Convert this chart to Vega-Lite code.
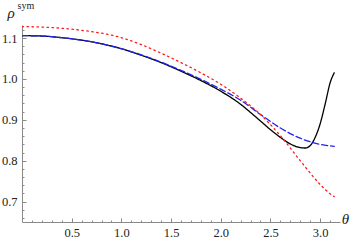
{
  "$schema": "https://vega.github.io/schema/vega-lite/v6.json",
  "width": 318,
  "height": 197,
  "autosize": {"type": "none"},
  "padding": {"left": 22, "top": 25, "right": 17, "bottom": 18},
  "background": "white",
  "config": {
    "font": "Liberation Serif",
    "view": {"stroke": null},
    "axis": {"grid": false, "domainColor": "#8a8a8a", "tickColor": "#8a8a8a", "labelFont": "Liberation Serif", "labelFontSize": 12.5, "labelColor": "#222222", "titleFont": "Liberation Serif", "titleFontWeight": "normal", "titleColor": "#222222"}
  },
  "data": {"values": [
    {"theta": 0.0, "rho": 1.106, "s": "exact"},
    {"theta": 0.2, "rho": 1.105, "s": "exact"},
    {"theta": 0.4, "rho": 1.101, "s": "exact"},
    {"theta": 0.6, "rho": 1.095, "s": "exact"},
    {"theta": 0.8, "rho": 1.086, "s": "exact"},
    {"theta": 1.0, "rho": 1.074, "s": "exact"},
    {"theta": 1.2, "rho": 1.058, "s": "exact"},
    {"theta": 1.4, "rho": 1.040, "s": "exact"},
    {"theta": 1.6, "rho": 1.019, "s": "exact"},
    {"theta": 1.8, "rho": 0.996, "s": "exact"},
    {"theta": 2.0, "rho": 0.970, "s": "exact"},
    {"theta": 2.2, "rho": 0.938, "s": "exact"},
    {"theta": 2.3, "rho": 0.918, "s": "exact"},
    {"theta": 2.4, "rho": 0.897, "s": "exact"},
    {"theta": 2.5, "rho": 0.876, "s": "exact"},
    {"theta": 2.6, "rho": 0.857, "s": "exact"},
    {"theta": 2.7, "rho": 0.841, "s": "exact"},
    {"theta": 2.8, "rho": 0.832, "s": "exact"},
    {"theta": 2.85, "rho": 0.831, "s": "exact"},
    {"theta": 2.9, "rho": 0.837, "s": "exact"},
    {"theta": 2.95, "rho": 0.857, "s": "exact"},
    {"theta": 3.0, "rho": 0.890, "s": "exact"},
    {"theta": 3.05, "rho": 0.938, "s": "exact"},
    {"theta": 3.1, "rho": 0.990, "s": "exact"},
    {"theta": 3.1416, "rho": 1.015, "s": "exact"},
    {"theta": 0.0, "rho": 1.106, "s": "approxA"},
    {"theta": 0.2, "rho": 1.105, "s": "approxA"},
    {"theta": 0.4, "rho": 1.101, "s": "approxA"},
    {"theta": 0.6, "rho": 1.095, "s": "approxA"},
    {"theta": 0.8, "rho": 1.086, "s": "approxA"},
    {"theta": 1.0, "rho": 1.074, "s": "approxA"},
    {"theta": 1.2, "rho": 1.059, "s": "approxA"},
    {"theta": 1.4, "rho": 1.041, "s": "approxA"},
    {"theta": 1.6, "rho": 1.021, "s": "approxA"},
    {"theta": 1.8, "rho": 0.999, "s": "approxA"},
    {"theta": 2.0, "rho": 0.975, "s": "approxA"},
    {"theta": 2.2, "rho": 0.948, "s": "approxA"},
    {"theta": 2.4, "rho": 0.913, "s": "approxA"},
    {"theta": 2.6, "rho": 0.880, "s": "approxA"},
    {"theta": 2.8, "rho": 0.855, "s": "approxA"},
    {"theta": 3.0, "rho": 0.840, "s": "approxA"},
    {"theta": 3.1416, "rho": 0.835, "s": "approxA"},
    {"theta": 0.0, "rho": 1.128, "s": "approxB"},
    {"theta": 0.2, "rho": 1.127, "s": "approxB"},
    {"theta": 0.4, "rho": 1.124, "s": "approxB"},
    {"theta": 0.6, "rho": 1.119, "s": "approxB"},
    {"theta": 0.8, "rho": 1.112, "s": "approxB"},
    {"theta": 1.0, "rho": 1.101, "s": "approxB"},
    {"theta": 1.2, "rho": 1.084, "s": "approxB"},
    {"theta": 1.4, "rho": 1.063, "s": "approxB"},
    {"theta": 1.6, "rho": 1.040, "s": "approxB"},
    {"theta": 1.8, "rho": 1.015, "s": "approxB"},
    {"theta": 2.0, "rho": 0.987, "s": "approxB"},
    {"theta": 2.2, "rho": 0.953, "s": "approxB"},
    {"theta": 2.4, "rho": 0.913, "s": "approxB"},
    {"theta": 2.6, "rho": 0.861, "s": "approxB"},
    {"theta": 2.8, "rho": 0.800, "s": "approxB"},
    {"theta": 3.0, "rho": 0.742, "s": "approxB"},
    {"theta": 3.1, "rho": 0.719, "s": "approxB"},
    {"theta": 3.1416, "rho": 0.712, "s": "approxB"}
  ]},
  "layer": [
    {
      "mark": {"type": "line", "strokeWidth": 1.3, "strokeCap": "round", "interpolate": "monotone", "clip": true},
      "encoding": {
        "x": {"field": "theta", "type": "quantitative", "scale": {"domain": [0, 3.2], "nice": false, "zero": false},
          "axis": {"values": [0.5, 1.0, 1.5, 2.0, 2.5, 3.0], "format": ".1f", "tickSize": -4, "labelPadding": 8, "title": "θ", "titleFontStyle": "italic", "titleFontSize": 15, "titleAngle": 0, "titleX": 323, "titleY": -4, "titleAlign": "center", "titleBaseline": "middle", "orient": "bottom"}},
        "y": {"field": "rho", "type": "quantitative", "scale": {"domain": [0.65, 1.132], "nice": false, "zero": false},
          "axis": {"values": [0.7, 0.8, 0.9, 1.0, 1.1], "format": ".1f", "tickSize": -4, "labelPadding": 9, "title": "ρ", "titleFontStyle": "italic", "titleFontSize": 15, "titleAngle": 0, "titleX": -15, "titleY": -8, "titleAlign": "left", "titleBaseline": "alphabetic", "orient": "left"}},
        "color": {"field": "s", "type": "nominal", "scale": {"domain": ["exact", "approxA", "approxB"], "range": ["#000000", "#2222ee", "#ff1a1a"]}, "legend": null},
        "strokeDash": {"field": "s", "type": "nominal", "scale": {"domain": ["exact", "approxA", "approxB"], "range": [[1, 0], [6, 3], [1.5, 3.5]]}, "legend": null}
      }
    },
    {
      "mark": {"type": "rule", "opacity": 0},
      "encoding": {
        "x": {"datum": 0, "type": "quantitative",
          "axis": {"values": [0.1, 0.2, 0.3, 0.4, 0.6, 0.7, 0.8, 0.9, 1.1, 1.2, 1.3, 1.4, 1.6, 1.7, 1.8, 1.9, 2.1, 2.2, 2.3, 2.4, 2.6, 2.7, 2.8, 2.9, 3.1], "labels": false, "domain": false, "tickSize": -2, "title": null, "orient": "bottom"}},
        "y": {"datum": 0.7, "type": "quantitative",
          "axis": {"values": [0.66, 0.68, 0.72, 0.74, 0.76, 0.78, 0.82, 0.84, 0.86, 0.88, 0.92, 0.94, 0.96, 0.98, 1.02, 1.04, 1.06, 1.08, 1.12], "labels": false, "domain": false, "tickSize": -2, "title": "sym", "titleFontSize": 10, "titleAngle": 0, "titleX": -5, "titleY": -17, "titleAlign": "left", "titleBaseline": "alphabetic", "orient": "left"}}
      }
    }
  ],
  "resolve": {"axis": {"x": "independent", "y": "independent"}}
}
